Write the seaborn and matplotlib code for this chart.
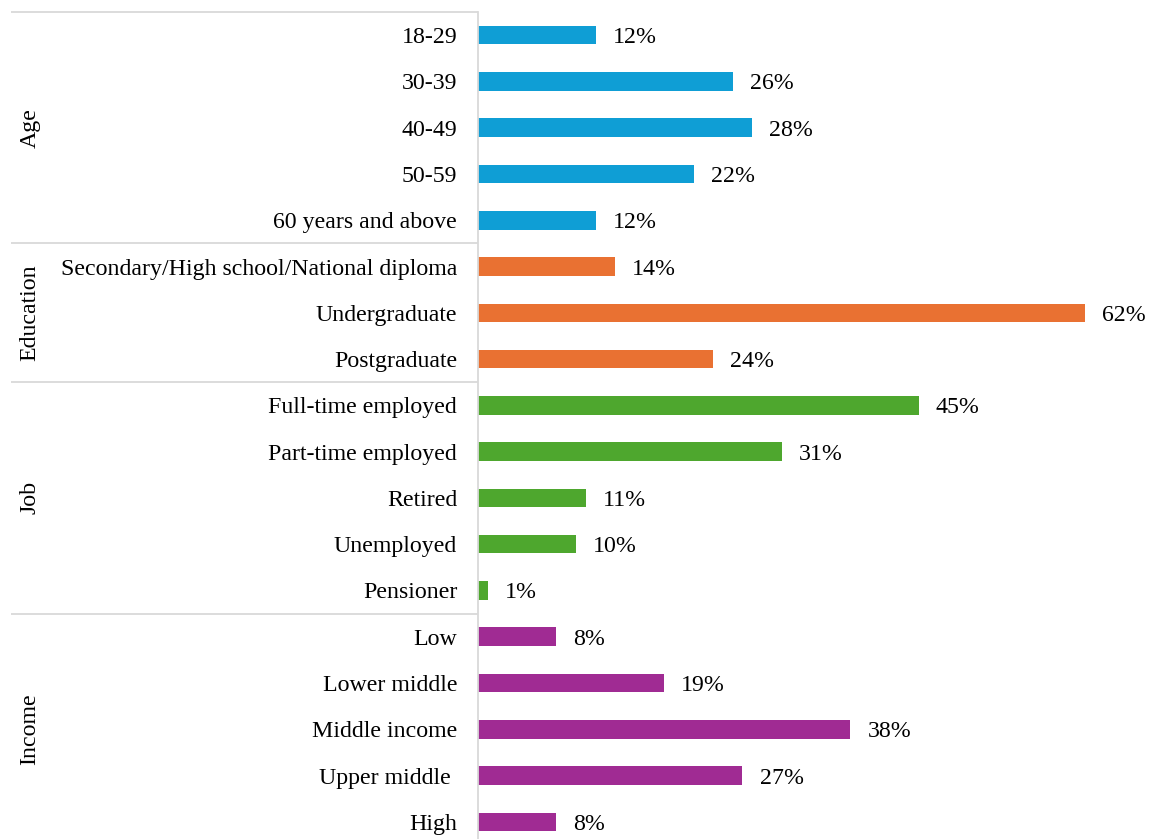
import matplotlib
matplotlib.use("Agg")
import matplotlib.pyplot as plt
import matplotlib.transforms as mtransforms
import seaborn as sns
import pandas as pd

# Survey respondent profile, grouped by demographic dimension
groups = ["Age"] * 5 + ["Education"] * 3 + ["Job"] * 5 + ["Income"] * 5
categories = [
    "18-29", "30-39", "40-49", "50-59", "60 years and above",
    "Secondary/High school/National diploma", "Undergraduate", "Postgraduate",
    "Full-time employed", "Part-time employed", "Retired", "Unemployed", "Pensioner",
    "Low", "Lower middle", "Middle income", "Upper middle ", "High",
]
percent = [12, 26, 28, 22, 12,
           14, 62, 24,
           45, 31, 11, 10, 1,
           8, 19, 38, 27, 8]
group_order = ["Age", "Education", "Job", "Income"]
group_colors = ["#0F9ED5", "#E97132", "#4EA72E", "#A02B93"]

df = pd.DataFrame({"group": groups, "category": categories, "percent": percent})

sns.set_theme(style="white")
plt.rcParams["font.family"] = ["Liberation Serif", "DejaVu Serif"]

W, H = 1150, 839
FS = 17.2
fig = plt.figure(figsize=(W / 100, H / 100), dpi=100)
left_px, right_px, top_px, bottom_px = 478, 1150, 12, 845
ax = fig.add_axes([left_px / W, (H - bottom_px) / H,
                   (right_px - left_px) / W, (bottom_px - top_px) / H])

sns.barplot(data=df, y="category", x="percent", hue="group",
            hue_order=group_order, palette=group_colors, dodge=False,
            saturation=1, orient="h", width=0.4, legend=False, ax=ax,
            order=categories, linewidth=0)

ax.set_xlim(0, 68.6)
ax.set_ylim(len(categories) - 0.5, -0.5)
ax.set_xlabel("")
ax.set_ylabel("")
ax.set_xticks([])
ax.tick_params(axis="y", length=0, pad=15, labelsize=FS, labelcolor="#000000")
for lbl in ax.get_yticklabels():
    lbl.set_verticalalignment("center_baseline")

for s in ["top", "right", "bottom"]:
    ax.spines[s].set_visible(False)
ax.spines["left"].set_color("#d9d9d9")
ax.spines["left"].set_linewidth(1.3)

# Value labels at the end of each bar
for i, v in enumerate(percent):
    ax.text(v + 1.75, i, f"{v}%", va="center_baseline", ha="left",
            fontsize=FS, color="#000000")

# Group separators and group names on the left
trans = mtransforms.blended_transform_factory(fig.transFigure, ax.transData)
x0 = 11 / W
x1 = left_px / W
bounds = [-0.5, 4.5, 7.5, 12.5]
for b in bounds:
    ax.plot([x0, x1], [b, b], transform=trans, color="#d9d9d9", lw=1.3,
            clip_on=False, solid_capstyle="butt")

centers = [2, 6, 10, 15]
for g, c in zip(group_order, centers):
    ax.text(30 / W, c, g, transform=trans, rotation=90, ha="center",
            va="center", fontsize=FS, color="#000000")

fig.savefig("out.png", dpi=100)
